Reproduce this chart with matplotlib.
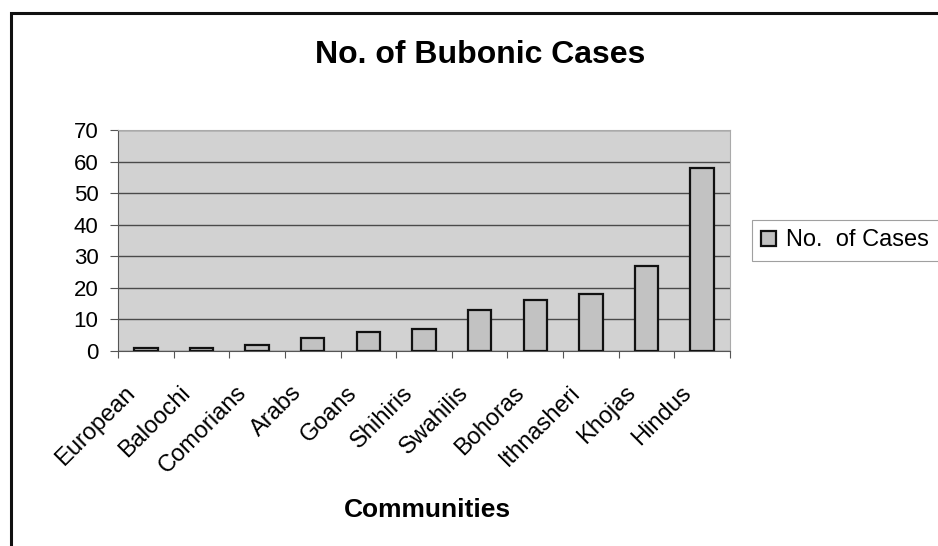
import matplotlib
matplotlib.use("Agg")
import matplotlib.pyplot as plt
from matplotlib.patches import Rectangle
from matplotlib.transforms import ScaledTranslation

communities = ["European", "Baloochi", "Comorians", "Arabs", "Goans", "Shihiris",
               "Swahilis", "Bohoras", "Ithnasheri", "Khojas", "Hindus"]
cases = [1, 1, 2, 4, 6, 7, 13, 16, 18, 27, 58]
yticks = [0, 10, 20, 30, 40, 50, 60, 70]

plt.rcParams['font.family'] = ['Liberation Sans', 'DejaVu Sans']

W, H = 938, 546
fig = plt.figure(figsize=(W / 100, H / 100), dpi=100)
fig.patch.set_facecolor('white')

# outer chart frame
fig.patches.append(Rectangle((11 / W, -0.05), 1.2, 1 - 13 / H + 0.05,
                             transform=fig.transFigure, fill=False,
                             edgecolor='#111111', linewidth=2.2, clip_on=False))

ax = fig.add_axes([118 / W, 1 - 351 / H, (730 - 118) / W, (351 - 130) / H])
ax.set_facecolor('#d2d2d2')
x = list(range(len(communities)))
bars = ax.bar(x, cases, width=0.42, color='#c2c2c2', edgecolor='#111111',
              linewidth=1.6, label='No. of Cases', zorder=3)
ax.set_xlim(-0.5, len(communities) - 0.5)
ax.set_ylim(0, 70)
ax.set_yticks(yticks)
ax.yaxis.grid(True, color='#4a4a4a', linewidth=1.0, zorder=1)
ax.set_axisbelow(True)
for s in ['top', 'right']:
    ax.spines[s].set_color('#aaaaaa')
    ax.spines[s].set_linewidth(0.8)
ax.spines['left'].set_color('#555555')
ax.spines['bottom'].set_color('#555555')
ax.tick_params(axis='y', labelsize=16, length=6, color='#555555', pad=8)
ax.set_xticks([i - 0.5 for i in range(len(communities) + 1)], minor=False)
ax.set_xticklabels([])
ax.tick_params(axis='x', length=5, color='#555555', direction='out')
ax.set_xticks(x, minor=True)
ax.set_xticklabels(communities, minor=True, rotation=45, ha='right', va='top',
                   rotation_mode='anchor', fontsize=17)
ax.tick_params(axis='x', which='minor', length=0, pad=22)
shift = ScaledTranslation(-22 / 100, 0, fig.dpi_scale_trans)
for lab in ax.get_xticklabels(minor=True):
    lab.set_transform(lab.get_transform() + shift)

fig.text(480 / W, 1 - 63 / H, "No. of Bubonic Cases", ha='center', va='baseline',
         fontsize=23, fontweight='bold')
fig.text(427 / W, 1 - 517 / H, "Communities", ha='center', va='baseline',
         fontsize=19, fontweight='bold')

leg = fig.legend(handles=[bars], labels=['No.  of Cases'], loc='upper left',
                 bbox_to_anchor=(752 / W, 1 - 220 / H), fontsize=17,
                 frameon=True, fancybox=False, edgecolor='#888888',
                 handlelength=0.6, handleheight=0.6, handletextpad=0.45,
                 borderpad=0.4, borderaxespad=0)
leg.get_frame().set_linewidth(0.8)

fig.savefig("out.png", dpi=100)
